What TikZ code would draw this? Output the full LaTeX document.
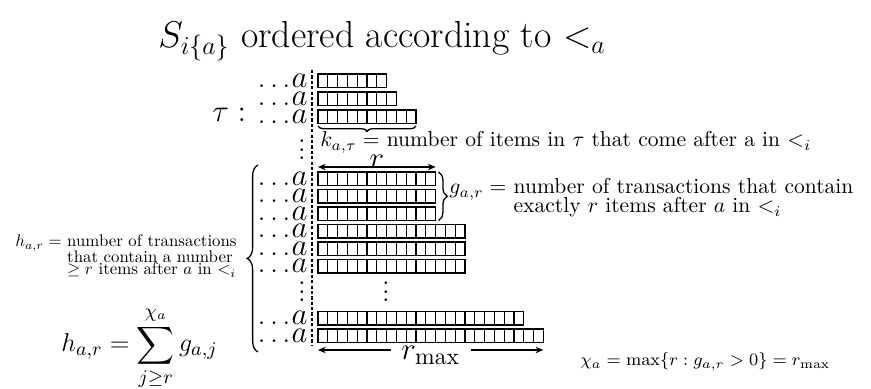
\documentclass[tikz,border=0pt]{standalone}
\usepackage{amsmath,amssymb}
\usetikzlibrary{arrows.meta,decorations.pathreplacing,calc}

\newcommand{\rowdots}{.\kern2pt.\kern2pt.\kern0.5pt}
\newcommand{\vdts}{\vbox{\baselineskip4pt \lineskiplimit0pt \hbox{.}\hbox{.}\hbox{.}}}
\newcommand{\itemrow}[3]{%
  \node[rowlab] (#1) at (308,{#2+13.5}) {\rowdots$a$};
  \foreach \n in {1,...,#3}
    \draw[cell] ({318+(\n-1)*9.8},#2) rectangle ++(9.8,13.5);
  \coordinate (#1-w) at (318,#2);
  \coordinate (#1-e) at ({318+#3*9.8},#2);
}

\begin{document}
\begin{tikzpicture}[x=0.464pt, y=-0.464pt,
  cell/.style={draw=black, line width=0.6pt},
  rowlab/.style={anchor=base east, inner sep=0pt, font=\fontsize{15}{17}\selectfont},
  big/.style={inner sep=0pt, font=\fontsize{15}{17}\selectfont},
  lab/.style={inner sep=0pt, font=\normalsize},
  brc/.style={decorate, decoration={brace, amplitude=#1}, line width=0.6pt},
  brc/.default=4pt,
  dim/.style={{Stealth[length=3.6pt,width=3pt]}-{Stealth[length=3.6pt,width=3pt]}, line width=0.6pt},
]
\useasboundingbox (0,0) rectangle (871,389);

\node[anchor=base west, inner sep=0pt, font=\fontsize{17.5}{20}\selectfont] (title) at (158,48) {$S_{i\{a\}}$ ordered according to $<_a$};

\coordinate (dtop) at (312,70);
\coordinate (dbot) at (312,346);
\draw[dashed, dash pattern=on 1.5pt off 1pt, line width=0.6pt] (dtop) -- (dbot);

\itemrow{t1}{74}{7}
\itemrow{t2}{92}{8}
\itemrow{t3}{110}{10}
\node[big, anchor=base west] (tau) at (212,122) {$\tau:$};
\draw[brc=2.5pt] ($(t3-e)+(0,16)$) -- ($(t3-w)+(0,16)$);
\node[lab, anchor=base west] (ktext) at (320,147) {$k_{a,\tau} =$ number of items in $\tau$ that come after a in $<_i$};
\node[big, anchor=base] (vd1) at (302,160) {\vdts};

\itemrow{g1}{172}{12}
\itemrow{g2}{189.5}{12}
\itemrow{g3}{207}{12}
\itemrow{g4}{224.5}{15}
\itemrow{g5}{242}{15}
\itemrow{g6}{259.5}{15}
\draw[dim] ($(g1-w)+(0,-5)$) -- node[big, above, yshift=-1pt] (rlab) {$r$} ($(g1-e)+(0,-5)$);
\draw[brc=4pt] ($(g1-e)+(3,0)$) -- ($(g3-e)+(3,13.5)$);
\node[lab, anchor=base west] (gtext) at (449,194) {$g_{a,r} =$ \begin{tabular}[t]{@{}l@{}}number of transactions that contain\\[-3.2pt] exactly $r$ items after $a$ in $<_i$\end{tabular}};

\node[big, anchor=base] (vd2) at (302,302) {\vdts};
\node[big, anchor=base] (vd3) at (386,302) {\vdts};

\itemrow{c1}{311.5}{21}
\itemrow{c2}{329}{23}
\draw[dim] ($(c2-w)+(0,21)$) -- node[big, fill=white, inner xsep=5pt, inner ysep=1pt, yshift=-2.5pt] (rmax) {$r_{\max}$} ($(c2-e)+(0,21)$);

\draw[brc=5pt] ($(c2-w)+(-60,23)$) -- ($(g1-w)+(-60,-7)$);
\node[lab, anchor=base east] (htext) at (237,247) {\scalebox{0.78}{$h_{a,r} =$ \begin{tabular}[t]{@{}l@{}}number of transactions\\[-2.5pt] that contain a number\\[-5pt] $\geq r$ items after $a$ in $<_i$\end{tabular}}};
\node[anchor=base west, inner sep=0pt, font=\fontsize{12.2}{14}\selectfont] (hsum) at (61,352) {$\displaystyle h_{a,r}=\sum_{j\geq r}^{\chi_a} g_{a,j}$};
\node[anchor=base west, inner sep=0pt, font=\fontsize{8.5}{10}\selectfont] (chi) at (580,366) {$\chi_a = \max\{r : g_{a,r} > 0\} = r_{\max}$};
\end{tikzpicture}
\end{document}
